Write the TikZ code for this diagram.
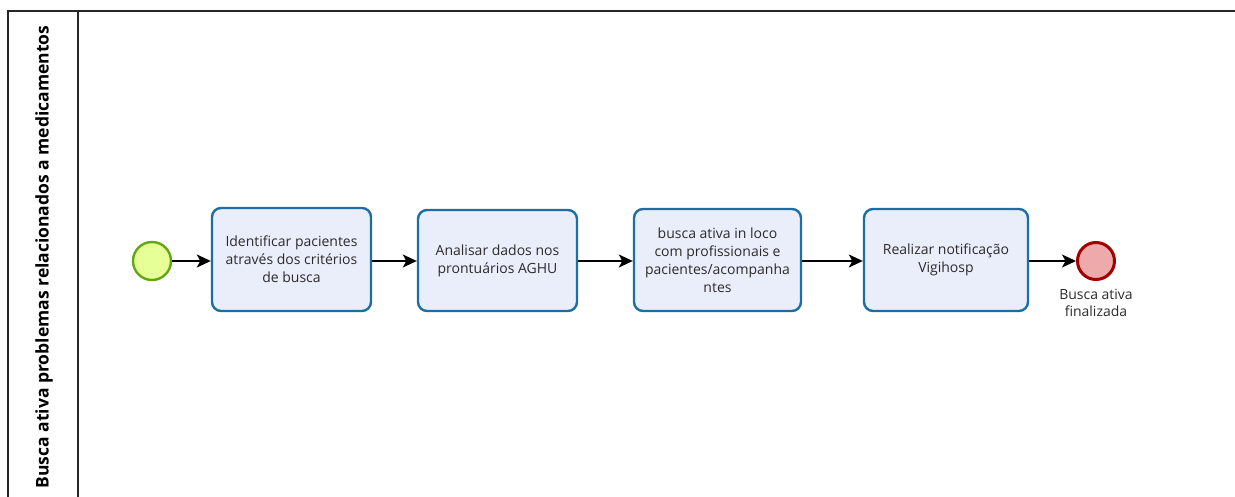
\documentclass[tikz,border=0pt]{standalone}
\usepackage{fontspec}
\setmainfont{Open Sans}
\usetikzlibrary{arrows.meta}
\definecolor{taskfill}{HTML}{EAEEFB}
\definecolor{taskline}{HTML}{1C6EA4}
\definecolor{startfill}{HTML}{E6FF97}
\definecolor{startline}{HTML}{62A716}
\definecolor{endfill}{HTML}{EEAAAA}
\definecolor{endline}{HTML}{A20000}
\definecolor{txt}{HTML}{2B2B2B}
\tikzset{
  x=1pt, y=-1pt,
  task/.style={draw=taskline, fill=taskfill, line width=2.4pt, rounded corners=9pt,
    align=center, text=txt, font=\fontsize{14}{18}\selectfont, inner sep=0pt},
  startev/.style={circle, draw=startline, fill=startfill, line width=2.4pt, minimum size=38pt, inner sep=0pt},
  endev/.style={circle, draw=endline, fill=endfill, line width=3pt, minimum size=37pt, inner sep=0pt},
  flow/.style={line width=1.4pt, -{Stealth[length=14pt,width=13pt,inset=3.5pt]}},
  poolline/.style={line width=1.4pt, draw=black!85},
}
\begin{document}
\begin{tikzpicture}
\useasboundingbox (0,0) rectangle (1235,497);
% pool frame and lane header
\draw[poolline] (1235,11) -- (8,11) -- (8,497);
\draw[poolline] (78,11) -- (78,497);
\node[rotate=90, font=\bfseries\fontsize{17.5}{20}\selectfont, text=black] (lane) at (44,257)
  {Busca ativa problemas relacionados a medicamentos};
% events and tasks
\node[startev] (start) at (152,261) {};
\node[task, minimum width=159pt, minimum height=103pt] (t1) at (291.5,259.5)
  {Identificar pacientes\\através dos critérios\\de busca};
\node[task, minimum width=159pt, minimum height=101pt] (t2) at (497.5,260.5)
  {Analisar dados nos\\prontuários AGHU};
\node[task, minimum width=167pt, minimum height=102pt] (t3) at (717.5,260)
  {busca ativa in loco\\com profissionais e\\pacientes/acompanha\\ntes};
\node[task, minimum width=164pt, minimum height=102pt] (t4) at (946,260)
  {Realizar notificação\\Vigihosp};
\node[endev] (end) at (1096,261) {};
\node[align=center, text=txt, font=\fontsize{14}{17}\selectfont, anchor=north] (endlabel)
  at (1096,286) {Busca ativa\\finalizada};
% sequence flows
\draw[flow] (start) -- (start -| t1.west);
\draw[flow] (t1.east |- start) -- (t2.west |- start);
\draw[flow] (t2.east |- start) -- (t3.west |- start);
\draw[flow] (t3.east |- start) -- (t4.west |- start);
\draw[flow] (t4.east |- start) -- (end);
\end{tikzpicture}
\end{document}
